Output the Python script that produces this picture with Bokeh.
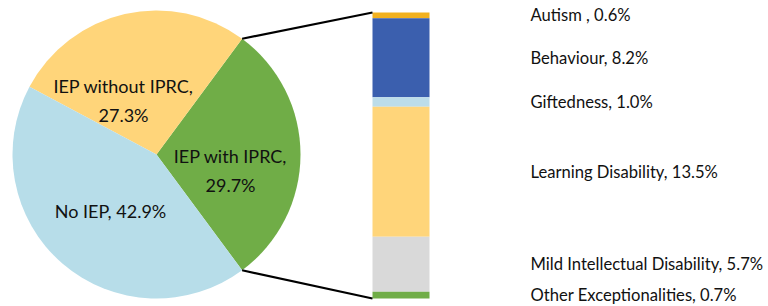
import math
from bokeh.plotting import figure
from bokeh.models import Range1d
from bokeh.core.properties import value
from bokeh.embed import file_html
from bokeh.resources import INLINE

# ---- data ----
pie_labels = ["IEP with IPRC", "IEP without IPRC", "No IEP"]
pie_values = [29.7, 27.3, 42.9]
pie_colors = ["#70AD47", "#FFD57A", "#B7DDE9"]

bar_labels = ["Autism ", "Behaviour", "Giftedness", "Learning Disability",
              "Mild Intellectual Disability", "Other Exceptionalities"]
bar_values = [0.6, 8.2, 1.0, 13.5, 5.7, 0.7]
bar_colors = ["#F2B11F", "#3B5FAE", "#BCDDEA", "#FFD57A", "#D9D9D9", "#70AD47"]

# ---- layout (screen px -> data; data y = H - screen y) ----
W, H = 768, 306
FONT = "Lato"
p = figure(width=W, height=H, x_range=Range1d(0, W), y_range=Range1d(0, H),
           output_backend="svg", toolbar_location=None, min_border=0)
p.axis.visible = False
p.grid.visible = False
p.outline_line_color = None
p.background_fill_color = "white"

def sy(y):
    return H - y

cx, cy, r = 156, sy(154), 144

total = sum(pie_values)
half = pie_values[0] / total * math.pi
starts, ends = [], []
a = -half
for v in pie_values:
    starts.append(a)
    a += v / total * 2 * math.pi
    ends.append(a)

p.wedge(x=cx, y=cy, radius=r, start_angle=starts, end_angle=ends,
        fill_color=pie_colors, line_color=None)

# pie labels
pie_text = [f"{l},\n{v}%" for l, v in zip(pie_labels[:2], pie_values[:2])] + \
           [f"{pie_labels[2]}, {pie_values[2]}%"]
offsets = [(74, -16), (-33, 54), (-46, -56)]
p.text(x=[cx + dx for dx, dy in offsets], y=[cy + dy for dx, dy in offsets],
       text=pie_text, text_align="center", text_baseline="middle",
       text_font=value(FONT), text_font_size="18px", text_color="#111111",
       text_line_height=1.3)

# bar
bx0, bx1 = 372, 429
btop, bbot = sy(12), sy(298)
scale = (btop - bbot) / sum(bar_values)
tops, bots = [], []
y = btop
for v in bar_values:
    tops.append(y)
    y -= v * scale
    bots.append(y)
p.quad(left=bx0, right=bx1, top=tops, bottom=bots, fill_color=bar_colors,
       line_color=None)

# connectors
p.segment(x0=[cx + r * math.cos(half), cx + r * math.cos(-half)],
          y0=[cy + r * math.sin(half), cy + r * math.sin(-half)],
          x1=[bx0, bx0], y1=[btop, bbot], line_color="black", line_width=2.2)

# bar labels
mids = [(t + b) / 2 for t, b in zip(tops, bots)]
p.text(x=530, y=mids, text=[f"{l}, {v}%" for l, v in zip(bar_labels, bar_values)],
       text_align="left", text_baseline="middle", text_font=value(FONT),
       text_font_size="16.6px", text_color="#111111")

open("out.html", "w").write(file_html(p, INLINE))
